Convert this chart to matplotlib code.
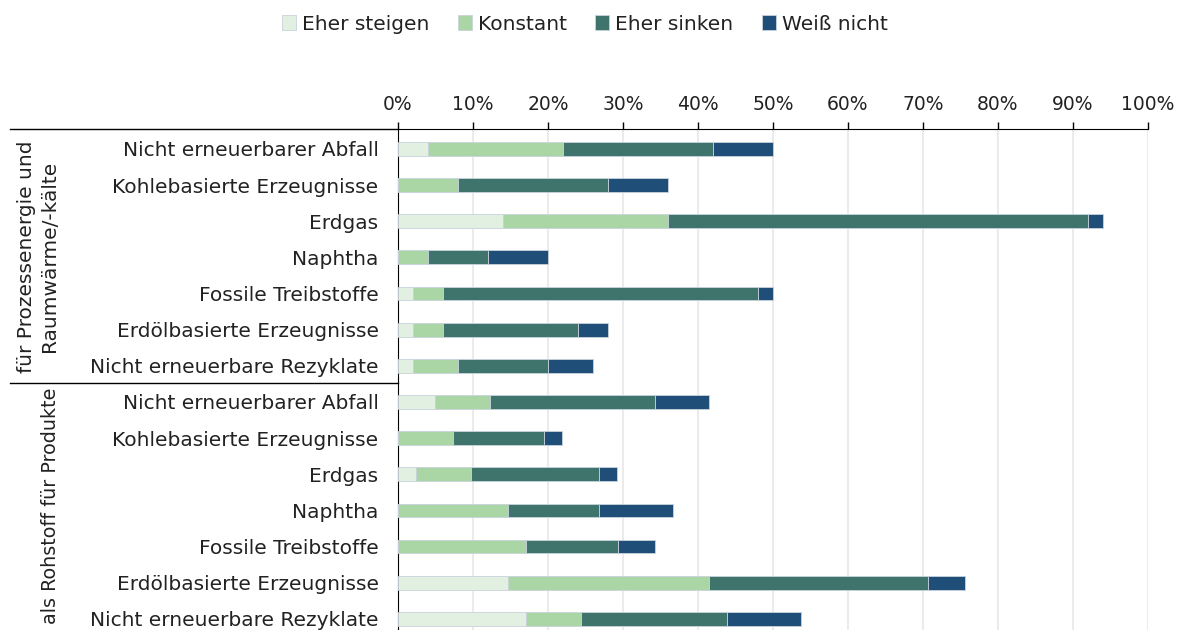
import matplotlib.pyplot as plt
from matplotlib.lines import Line2D
import numpy as np

#--DATA--#
categories = ["Nicht erneuerbarer Abfall", "Kohlebasierte Erzeugnisse", "Erdgas",
              "Naphtha", "Fossile Treibstoffe", "Erdölbasierte Erzeugnisse",
              "Nicht erneuerbare Rezyklate"]
labels = categories + categories
groups = ["für Prozessenergie und\nRaumwärme/-kälte", "als Rohstoff für Produkte"]
series = ["Eher steigen", "Konstant", "Eher sinken", "Weiß nicht"]

# percentages, top group (energy) then bottom group (feedstock)
steigen = [4, 0, 14, 0, 2, 2, 2,
           4.9, 0, 2.4, 0, 0, 14.6, 17.1]
konstant = [18, 8, 22, 4, 4, 4, 6,
            7.3, 7.3, 7.3, 14.6, 17.1, 26.8, 7.3]
sinken = [20, 20, 56, 8, 42, 18, 12,
          22.0, 12.2, 17.1, 12.2, 12.2, 29.3, 19.5]
weiss = [8, 8, 2, 8, 2, 4, 6,
         7.3, 2.4, 2.4, 9.8, 4.9, 4.9, 9.8]
#----#

colors = ["#E2F0E2", "#AAD6A6", "#3E746B", "#1F4E79"]

plt.rcParams['font.family'] = ['DejaVu Sans']
fig = plt.figure(figsize=(11.77, 6.3), dpi=100)

# axes: x 398..1148 px, y top at 129 px, rows 36.15 px apart
top_px = 129
row_px = 36.15
n = len(labels)
ylim_top = -0.55
ylim_bot = n - 1 + 0.5
h_px = (ylim_bot - ylim_top) * row_px
ax = fig.add_axes([398 / 1177, 1 - (top_px + h_px) / 630, 750 / 1177, h_px / 630])

y = np.arange(n)
left = np.zeros(n)
for vals, col, name in zip([steigen, konstant, sinken, weiss], colors, series):
    vals = np.array(vals)
    ax.barh(y, vals, left=left, height=0.38, color=col, edgecolor="#C9D3DC",
            linewidth=0.6, label=name, zorder=3)
    left += vals

ax.set_xlim(0, 100)
ax.set_ylim(ylim_bot, ylim_top)
ax.xaxis.tick_top()
ax.set_xticks(np.arange(0, 101, 10))
ax.set_xticklabels([f"{v}%" for v in range(0, 101, 10)], fontsize=13.5, color="#222222")
ax.tick_params(axis="x", direction="out", length=5, width=1, pad=6)
ax.set_yticks(y)
ax.set_yticklabels(labels, fontsize=14.5, color="#222222")
ax.tick_params(axis="y", length=0, pad=14)
ax.grid(axis="x", color="#EBEBEB", linewidth=1.5, zorder=0)
for s in ["right", "bottom"]:
    ax.spines[s].set_visible(False)
ax.spines["top"].set_color("black")
ax.spines["left"].set_color("black")

# group box lines and labels
fig.add_artist(Line2D([10 / 1177, 398 / 1177], [1 - 129 / 630, 1 - 129 / 630],
                      color="black", linewidth=1))
fig.add_artist(Line2D([10 / 1177, 398 / 1177], [1 - 383 / 630, 1 - 383 / 630],
                      color="black", linewidth=1))
fig.text(38 / 1177, 1 - 256.5 / 630, groups[0], rotation=90, ha="center", va="center",
         fontsize=14.5, color="#222222", linespacing=1.25)
fig.text(51 / 1177, 1 - 506 / 630, groups[1], rotation=90, ha="center", va="center",
         fontsize=13.8, color="#222222")

fig.legend(loc="center", bbox_to_anchor=(0.497, 1 - 24 / 630), ncol=4, frameon=False,
           fontsize=14.5, handlelength=0.7, handleheight=0.7, handletextpad=0.3,
           columnspacing=1.4, labelcolor="#222222")

fig.savefig("out.png", dpi=100)
